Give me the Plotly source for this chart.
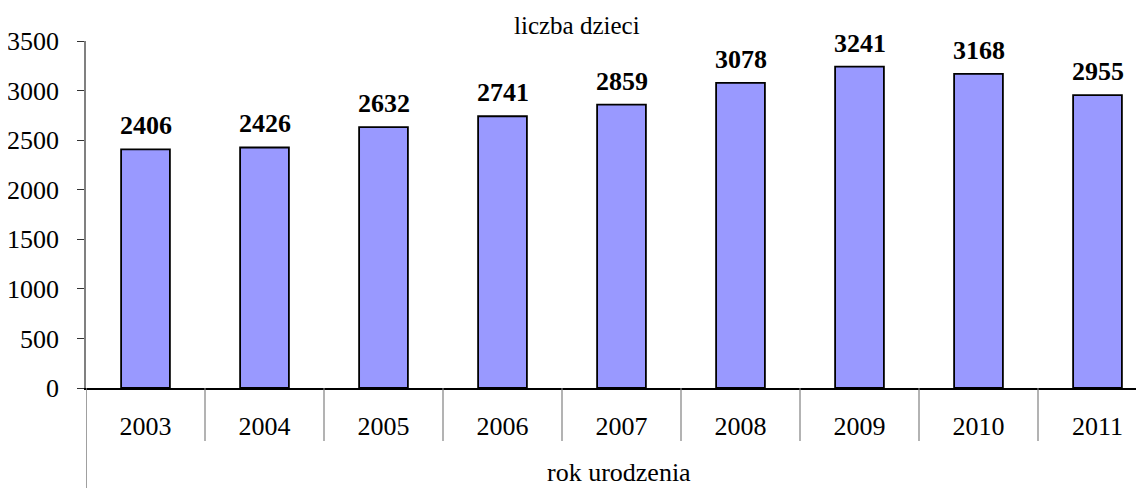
import plotly.graph_objects as go

years = ["2003", "2004", "2005", "2006", "2007", "2008", "2009", "2010", "2011"]
births = [2406, 2426, 2632, 2741, 2859, 3078, 3241, 3168, 2955]
y_ticks = [0, 500, 1000, 1500, 2000, 2500, 3000, 3500]
y_title = "liczba dzieci"
x_title = "rok urodzenia"

FONT = "Liberation Serif"
OFF = 8  # page body margin
W, H = 1144 - OFF, 488 - OFF
ML, MT, MB = 86 - OFF, 41 - OFF, 100
plot_w = W - ML
ph = H - MT - MB
cat_px = 119.0
n_vis = plot_w / cat_px

fig = go.Figure()
fig.add_trace(go.Bar(
    x=years, y=births,
    marker=dict(color="#9999FF", line=dict(color="#000000", width=1.8)),
    width=0.41,
    hoverinfo="x+y",
))

for i, v in enumerate(births):
    fig.add_annotation(x=i, y=v, xref="x", yref="y", text="<b>%d</b>" % v,
                       showarrow=False, yanchor="bottom", yshift=7,
                       font=dict(family=FONT, size=26, color="#000000"))

# category separators below the axis
for i in range(1, len(years)):
    fig.add_shape(type="line", xref="x", yref="paper",
                  x0=i - 0.5, x1=i - 0.5, y0=0, y1=-53 / ph,
                  line=dict(color="#808080", width=1.2))
# left axis extension to the bottom
fig.add_shape(type="line", xref="x", yref="paper",
              x0=-0.5, x1=-0.5, y0=0, y1=-MB / ph,
              line=dict(color="#808080", width=1.5))

fig.add_annotation(text=y_title, xref="paper", yref="paper",
                   x=(577 - 86) / plot_w, y=(388 - 25) / ph,
                   xanchor="center", yanchor="middle", showarrow=False,
                   font=dict(family=FONT, size=25, color="#000000"))
fig.add_annotation(text=x_title, xref="paper", yref="paper",
                   x=(619 - 86) / plot_w, y=-MB / ph,
                   xanchor="center", yanchor="bottom", showarrow=False,
                   borderpad=0,
                   font=dict(family=FONT, size=26, color="#000000"))

fig.update_layout(
    width=W, height=H, autosize=False,
    margin=dict(l=ML, r=0, t=MT, b=MB, pad=0),
    plot_bgcolor="white", paper_bgcolor="white",
    showlegend=False,
    font=dict(family=FONT, size=26, color="#000000"),
    bargap=0.59,
)
fig.update_xaxes(
    type="category", range=[-0.5, -0.5 + n_vis],
    showline=True, linecolor="#000000", linewidth=1.5,
    showgrid=False, zeroline=False, ticks="",
    ticklabelstandoff=14,
    tickfont=dict(family=FONT, size=26, color="#000000"),
)
fig.update_yaxes(
    range=[0, 3500], tickvals=y_ticks,
    ticktext=[str(t) + "\u00a0\u00a0" for t in y_ticks],
    showline=True, linecolor="#808080", linewidth=1.5,
    ticks="outside", ticklen=7, tickcolor="#333333", tickwidth=1.2,
    showgrid=False, zeroline=False,
    tickfont=dict(family=FONT, size=26, color="#000000"),
)

fig.write_html("out.html")
